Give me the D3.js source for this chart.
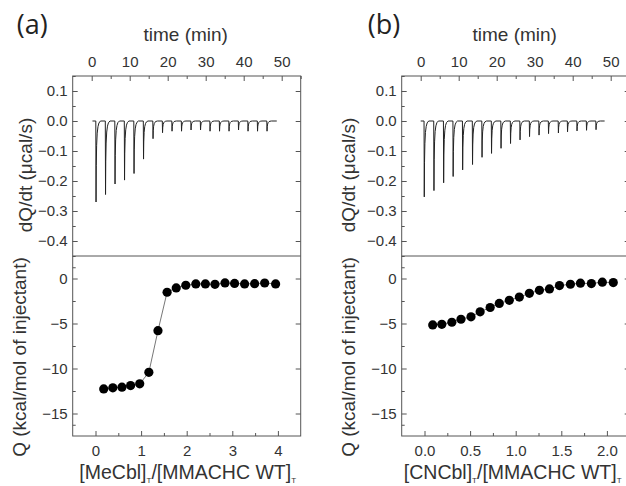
<!DOCTYPE html>
<html>
<head>
<meta charset="utf-8">
<script src="https://cdn.jsdelivr.net/npm/d3@7"></script>
<style>
  body { margin: 0; background: #fff; }
  svg text { font-family: "Liberation Sans", Arial, sans-serif; fill: #333; }
  .tick line { stroke: #555; }
</style>
</head>
<body>
<div id="chart"></div>
<script>
// injection times (min) and peak depths (ucal/s) of the raw thermograms
const injTimeA = [1.1, 3.6, 6.1, 8.6, 11.1, 13.6, 16.1, 18.6, 21.1, 23.6, 26.1, 28.6, 31.1, 33.6, 36.1, 38.6, 41.1, 43.6, 46.1];
const peakA = [-0.27, -0.245, -0.21, -0.197, -0.175, -0.127, -0.059, -0.039, -0.034, -0.034, -0.03, -0.03, -0.034, -0.034, -0.034, -0.03, -0.034, -0.034, -0.034];
const injTimeB = [0.9, 3.45, 6.0, 8.5, 11.0, 13.6, 16.1, 18.6, 21.1, 23.6, 26.1, 28.6, 31.1, 33.6, 36.2, 38.6, 41.1, 43.6, 46.1];
const peakB = [-0.253, -0.232, -0.206, -0.185, -0.163, -0.145, -0.121, -0.108, -0.091, -0.075, -0.063, -0.052, -0.047, -0.042, -0.04, -0.036, -0.033, -0.031, -0.029];
const traceSpanA = [0.2, 48.7];
const traceSpanB = [0.0, 48.4];

// integrated heats (kcal/mol of injectant) vs molar ratio
const ratioA = [0.18, 0.38, 0.58, 0.77, 0.97, 1.17, 1.37, 1.57, 1.77, 1.98, 2.2, 2.41, 2.62, 2.84, 3.05, 3.27, 3.49, 3.71, 3.95];
const heatA = [-12.27, -12.15, -12.08, -11.9, -11.7, -10.43, -5.8, -1.53, -1.05, -0.75, -0.6, -0.6, -0.65, -0.49, -0.55, -0.6, -0.57, -0.5, -0.6];
const ratioB = [0.09, 0.19, 0.30, 0.40, 0.51, 0.61, 0.72, 0.82, 0.93, 1.04, 1.15, 1.26, 1.37, 1.48, 1.60, 1.71, 1.83, 1.95, 2.07];
const heatB = [-5.16, -5.09, -4.86, -4.53, -4.26, -3.70, -3.22, -2.77, -2.43, -2.06, -1.65, -1.31, -1.16, -0.79, -0.64, -0.52, -0.56, -0.41, -0.45];

// tick values
const timeTicks = [0, 10, 20, 30, 40, 50];
const rateTicks = [0.1, 0.0, -0.1, -0.2, -0.3, -0.4];
const heatTicks = [0, -5, -10, -15];
const ratioTicksA = [0, 1, 2, 3, 4];
const ratioTicksB = [0.0, 0.5, 1.0, 1.5, 2.0];

// shape of one injection spike: [time offset (min), fraction of peak depth]
const spikeShape = [[-0.02, 0], [0.04, 1], [0.1, 0.55], [0.2, 0.3], [0.35, 0.15], [0.55, 0.07], [0.8, 0.025], [1.2, 0]];

const W = 626, H = 486;
const svg = d3.select('#chart').append('svg')
  .attr('width', W).attr('height', H);

const fw = 228, top0 = 76, mid = 256, bot = 436;

function buildTrace(times, peaks, span) {
  const pts = [[span[0], 0]];
  times.forEach((t, i) => {
    spikeShape.forEach(s => pts.push([t + s[0], peaks[i] * s[1]]));
  });
  pts.push([span[1], 0]);
  return pts;
}

function panel(o) {
  const g = svg.append('g').attr('transform', `translate(${o.left},0)`);

  const xt = d3.scaleLinear().domain([-5, 55]).range([0, fw]);
  const yt = d3.scaleLinear().domain([-0.45, 0.15]).range([mid, top0]);
  const xr = d3.scaleLinear().domain(o.ratioDomain).range([0, fw]);
  const yq = d3.scaleLinear().domain([-17.5, 2.5]).range([bot, mid]);

  // top panel axes
  g.append('g').attr('transform', `translate(0,${top0})`)
    .call(d3.axisTop(xt).tickValues(d3.range(5, 56, 10)).tickSize(-3).tickFormat(''));
  g.append('g').attr('transform', `translate(0,${top0})`)
    .call(d3.axisTop(xt).tickValues(timeTicks).tickSize(-5).tickPadding(9).tickFormat(d3.format('d')));
  g.append('g')
    .call(d3.axisLeft(yt).tickValues(d3.range(-0.45, 0.16, 0.05)).tickSize(-3).tickFormat(''));
  g.append('g')
    .call(d3.axisLeft(yt).tickValues(rateTicks).tickSize(-5).tickPadding(5).tickFormat(d3.format('.1f')));
  g.append('g').attr('transform', `translate(${fw},0)`)
    .call(d3.axisRight(yt).tickValues(rateTicks).tickSize(-5).tickFormat(''));

  // bottom panel axes
  g.append('g').attr('transform', `translate(0,${bot})`)
    .call(d3.axisBottom(xr).tickValues(o.ratioMinor).tickSize(-3).tickFormat(''));
  g.append('g').attr('transform', `translate(0,${bot})`)
    .call(d3.axisBottom(xr).tickValues(o.ratioTicks).tickSize(-5).tickPadding(9).tickFormat(o.ratioFormat));
  g.append('g')
    .call(d3.axisLeft(yq).tickValues([-16.25, -12.5, -7.5, -2.5, 1.25].filter(v => v > -17.5)).tickSize(-3).tickFormat(''));
  g.append('g')
    .call(d3.axisLeft(yq).tickValues(heatTicks).tickSize(-5).tickPadding(5).tickFormat(d3.format('d')));
  g.append('g').attr('transform', `translate(${fw},0)`)
    .call(d3.axisRight(yq).tickValues(heatTicks).tickSize(-5).tickFormat(''));

  g.selectAll('.domain').remove();
  g.selectAll('.tick text').style('font-size', '15px');

  // frames
  g.append('rect').attr('x', 0).attr('y', top0).attr('width', fw).attr('height', bot - top0)
    .attr('fill', 'none').attr('stroke', '#555').attr('stroke-width', 1);
  g.append('line').attr('x1', 0).attr('x2', fw).attr('y1', mid).attr('y2', mid)
    .attr('stroke', '#555').attr('stroke-width', 1);

  // thermogram
  const line = d3.line().x(d => xt(d[0])).y(d => yt(d[1]));
  g.append('path')
    .datum(buildTrace(o.injTime, o.peak, o.span))
    .attr('d', line)
    .attr('fill', 'none')
    .attr('stroke', '#222')
    .attr('stroke-width', 1);

  // integrated heats
  const pts = o.ratio.map((r, i) => [r, o.heat[i]]);
  g.append('path')
    .datum(pts)
    .attr('d', d3.line().x(d => xr(d[0])).y(d => yq(d[1])))
    .attr('fill', 'none').attr('stroke', '#777').attr('stroke-width', 1);
  g.selectAll('circle.pt').data(pts).enter().append('circle')
    .attr('class', 'pt')
    .attr('cx', d => xr(d[0])).attr('cy', d => yq(d[1]))
    .attr('r', 4.6).attr('fill', '#000');

  // titles
  svg.append('text').attr('x', o.left + o.tagDx).attr('y', 34)
    .style('font-family', '"Open Sans", sans-serif').style('font-size', '27px').style('fill', '#222')
    .text(o.tag);
  g.append('text').attr('x', fw / 2 - 1).attr('y', 41).attr('text-anchor', 'middle')
    .style('font-size', '19px').text('time (min)');
  g.append('text').attr('transform', `translate(${o.rateTitleX},175) rotate(-90)`)
    .attr('text-anchor', 'middle').style('font-size', '19px').text('dQ/dt (\u03bccal/s)');
  g.append('text').attr('transform', `translate(${o.heatTitleX},357) rotate(-90)`)
    .attr('text-anchor', 'middle').style('font-size', '19px').text('Q (kcal/mol of injectant)');

  const xt2 = g.append('text').attr('x', fw / 2 + o.xTitleDx).attr('y', 479).attr('text-anchor', 'middle')
    .style('font-size', '19.5px');
  xt2.append('tspan').text(o.ligand);
  xt2.append('tspan').attr('dy', 4).style('font-size', '8px').text('T');
  xt2.append('tspan').attr('dy', -4).text('/[MMACHC WT]');
  xt2.append('tspan').attr('dy', 4).style('font-size', '8px').text('T');
}

panel({
  left: 72.7, tag: '(a)', tagDx: -56,
  injTime: injTimeA, peak: peakA, span: traceSpanA,
  ratio: ratioA, heat: heatA,
  ratioDomain: [-0.5, 4.5], ratioTicks: ratioTicksA, ratioMinor: [0.5, 1.5, 2.5, 3.5],
  ratioFormat: d3.format('d'), ligand: '[MeCbl]', xTitleDx: 1,
  rateTitleX: -41, heatTitleX: -47
});

panel({
  left: 401.7, tag: '(b)', tagDx: -34,
  injTime: injTimeB, peak: peakB, span: traceSpanB,
  ratio: ratioB, heat: heatB,
  ratioDomain: [-0.25, 2.25], ratioTicks: ratioTicksB, ratioMinor: [0.25, 0.75, 1.25, 1.75],
  ratioFormat: d3.format('.1f'), ligand: '[CNCbl]', xTitleDx: -3,
  rateTitleX: -47, heatTitleX: -47
});
</script>
</body>
</html>
